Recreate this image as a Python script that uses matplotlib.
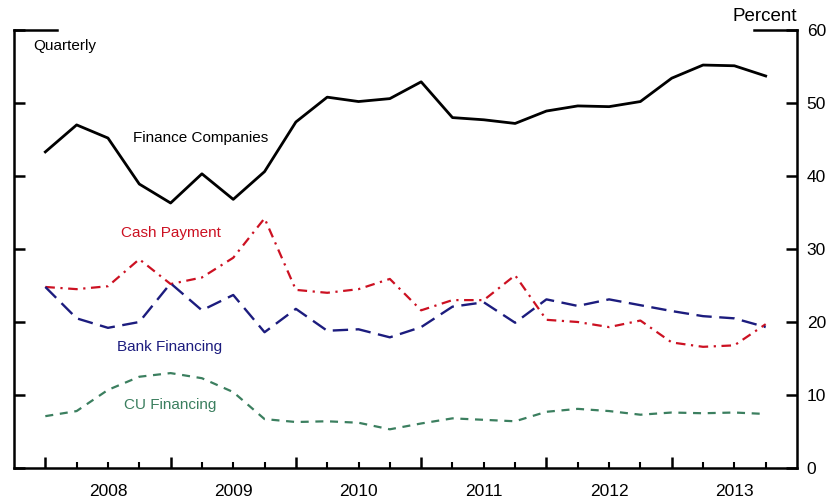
import numpy as np
import matplotlib.pyplot as plt
from matplotlib.ticker import FixedLocator
import matplotlib.transforms as mtransforms

plt.rcParams['font.family'] = ['Liberation Sans', 'DejaVu Sans']

# quarterly observations, 2008Q1 .. 2013Q4
quarters = 2008 + 0.25 * np.arange(24)

finance_companies = [43.3, 47.0, 45.2, 38.9, 36.3, 40.3, 36.8, 40.6,
                     47.4, 50.8, 50.2, 50.6, 52.9, 48.0, 47.7, 47.2,
                     48.9, 49.6, 49.5, 50.2, 53.4, 55.2, 55.1, 53.7]
cash_payment = [24.8, 24.5, 24.9, 28.6, 25.2, 26.1, 28.8, 34.2,
                24.4, 24.0, 24.5, 25.9, 21.6, 23.0, 23.0, 26.4,
                20.3, 20.0, 19.3, 20.2, 17.2, 16.6, 16.8, 19.7]
bank_financing = [24.8, 20.5, 19.2, 20.0, 25.3, 21.6, 23.7, 18.6,
                  21.8, 18.8, 19.0, 17.9, 19.3, 22.1, 22.7, 19.9,
                  23.1, 22.2, 23.1, 22.3, 21.5, 20.8, 20.5, 19.3]
cu_financing = [7.1, 7.8, 10.7, 12.5, 13.0, 12.3, 10.4, 6.7,
                6.3, 6.4, 6.2, 5.3, 6.1, 6.8, 6.6, 6.4,
                7.7, 8.1, 7.8, 7.3, 7.6, 7.5, 7.6, 7.4]

years = [2008, 2009, 2010, 2011, 2012, 2013]
yticks = [0, 10, 20, 30, 40, 50, 60]

red = '#cc1122'
navy = '#1c1c7e'
green = '#3b7f5f'

fig = plt.figure(figsize=(8.4, 5.04), dpi=100)
ax = fig.add_axes([14/840, 36/504, 783/840, 438/504])

ax.plot(quarters, finance_companies, color='black', lw=2.0)
ax.plot(quarters, cash_payment, color=red, lw=1.6,
        linestyle=(0, (4.3, 2.5, 1.0, 2.5)))
ax.plot(quarters, bank_financing, color=navy, lw=1.7,
        linestyle=(0, (6.5, 3.2)))
ax.plot(quarters, cu_financing, color=green, lw=1.6,
        linestyle=(0, (3.6, 3.0)))

ax.set_xlim(2007.75, 2014.0)
ax.set_ylim(0, 60)

ax.spines['top'].set_visible(False)
for side in ['left', 'right', 'bottom']:
    ax.spines[side].set_linewidth(1.8)

# partial top lines at both corners
for x0, x1 in [(0, 43/783), (1 - 43/783, 1)]:
    ax.plot([x0, x1], [1, 1], transform=ax.transAxes, color='black',
            lw=1.8, clip_on=False, solid_capstyle='projecting')

ax.set_yticks(yticks)
ax.yaxis.set_ticks_position('both')
ax.tick_params(axis='y', direction='in', length=8, width=1.8,
               labelleft=False, labelright=True, labelsize=12.5, pad=7)

ax.xaxis.set_major_locator(FixedLocator(years))
minor = [q for q in quarters if q not in years]
ax.xaxis.set_minor_locator(FixedLocator(minor))
ax.tick_params(axis='x', which='major', direction='in', length=8, width=1.8,
               labelbottom=False)
ax.tick_params(axis='x', which='minor', direction='in', length=4, width=1.5)

trans = mtransforms.blended_transform_factory(ax.transData, ax.transAxes)
for y in years:
    ax.text(y + 0.5, -24/438, str(y), transform=trans, ha='center',
            va='center', fontsize=12.5)

ax.text(1.0, 1.03, 'Percent', transform=ax.transAxes, ha='right',
        va='center', fontsize=13.5)
ax.text(19/783, 1 - 16/438, 'Quarterly', transform=ax.transAxes,
        ha='left', va='center', fontsize=11)
ax.text(133/840, 1 - 138/504, 'Finance Companies', transform=fig.transFigure,
        ha='left', va='center', fontsize=11)
ax.text(121/840, 1 - 233/504, 'Cash Payment', transform=fig.transFigure,
        ha='left', va='center', fontsize=11, color=red)
ax.text(117/840, 1 - 347/504, 'Bank Financing', transform=fig.transFigure,
        ha='left', va='center', fontsize=11, color=navy)
ax.text(124/840, 1 - 405/504, 'CU Financing', transform=fig.transFigure,
        ha='left', va='center', fontsize=11, color=green)

fig.savefig('out.png', dpi=100)
